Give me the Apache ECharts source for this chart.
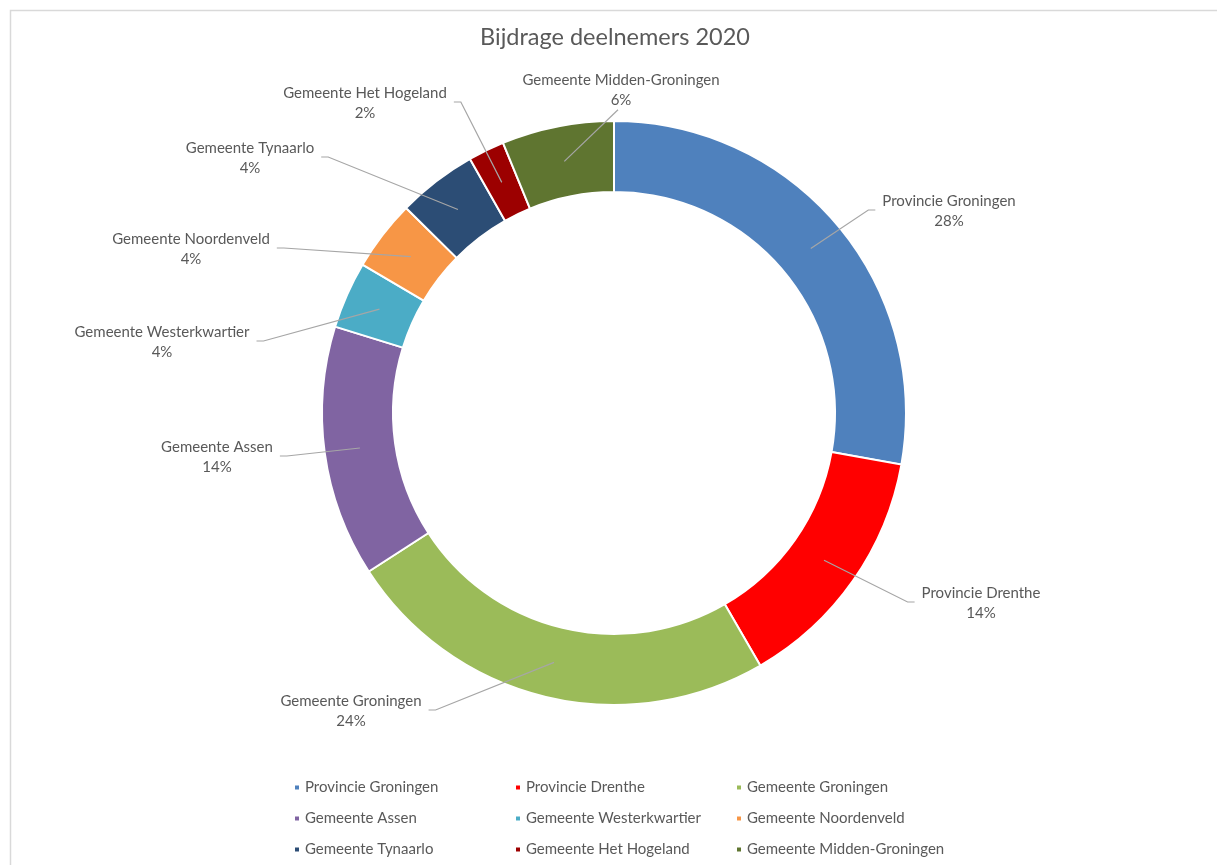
<!DOCTYPE html>
<html>
<head>
<meta charset="utf-8">
<script src="https://cdn.jsdelivr.net/npm/echarts@6/dist/echarts.min.js"></script>
<style>
  html, body { margin: 0; padding: 0; background: #ffffff; }
  #chart { width: 1217px; height: 865px; }
</style>
</head>
<body>
<div id="chart"></div>
<script>
// ---- data ----
const categories = [
  'Provincie Groningen', 'Provincie Drenthe', 'Gemeente Groningen',
  'Gemeente Assen', 'Gemeente Westerkwartier', 'Gemeente Noordenveld',
  'Gemeente Tynaarlo', 'Gemeente Het Hogeland', 'Gemeente Midden-Groningen'
];
const shares = [27.8, 13.8, 24.2, 13.9, 3.7, 3.9, 4.4, 2.0, 6.2];
const titleText = 'Bijdrage deelnemers 2020';

// ---- styles / layout ----
const palette = ['#4F81BD', '#FF0000', '#9BBB59', '#8064A2', '#4BACC6',
                 '#F79646', '#2C4D75', '#9C0000', '#5F7530'];
// centre of each data-label block (layout only)
const labelPos = [[949, 211], [981, 603], [351, 711], [217, 457], [162, 342],
                  [191, 249], [250, 158], [365, 103], [621, 90]];
const labelSide = ['right', 'right', 'left', 'left', 'left', 'left', 'left', 'left', 'top'];
const FONT = 'Lato';
const TEXT = '#595959';

const pieData = categories.map((c, i) => ({ name: c, value: shares[i] }));

const chart = echarts.init(document.getElementById('chart'), null, { renderer: 'canvas' });
chart.setOption({
  backgroundColor: '#ffffff',
  animation: false,
  color: palette,
  title: {
    text: titleText,
    left: 615,
    top: 25,
    padding: 0,
    textAlign: 'center',
    textStyle: { fontFamily: FONT, fontSize: 23.5, fontWeight: 'normal', color: TEXT }
  },
  graphic: [{
    type: 'rect',
    left: 8, top: 8,
    shape: { width: 1400, height: 1000 },
    style: { fill: 'none', stroke: '#D9D9D9', lineWidth: 1.5 },
    silent: true, z: -10
  }],
  legend: {
    left: 288,
    top: 773,
    width: 665,
    orient: 'horizontal',
    icon: 'rect',
    itemWidth: 6,
    itemHeight: 6,
    itemGap: 12,
    data: categories,
    textStyle: { fontFamily: FONT, fontSize: 15, color: TEXT, width: 197, lineHeight: 19 }
  },
  series: [
    {
      type: 'pie',
      center: [614, 413],
      radius: [221, 292],
      startAngle: 90,
      clockwise: true,
      silent: true,
      label: { show: false },
      labelLine: { show: false },
      itemStyle: { borderColor: '#ffffff', borderWidth: 2 },
      data: pieData
    },
    {
      type: 'pie',
      center: [614, 413],
      radius: [0, 256.5],
      startAngle: 90,
      clockwise: true,
      silent: true,
      z: 5,
      itemStyle: { color: 'rgba(0,0,0,0)', borderWidth: 0 },
      label: {
        show: true,
        position: 'outside',
        formatter: p => '{n|' + p.name + '}\n{v|' + Math.round(p.percent) + '%}',
        rich: {
          n: { fontFamily: FONT, fontSize: 15, color: TEXT, align: 'center', lineHeight: 20.5 },
          v: { fontFamily: FONT, fontSize: 15, color: TEXT, align: 'center', lineHeight: 20.5 }
        }
      },
      labelLine: { show: true, length: 20, length2: 10, lineStyle: { color: '#A6A6A6', width: 1.2 } },
      labelLayout: function (params) {
        if (params.seriesIndex !== 1) return {};
        const i = params.dataIndex;
        const x = labelPos[i][0], y = labelPos[i][1];
        const w = params.labelRect.width, h = params.labelRect.height;
        const start = params.labelLinePoints[0];
        let end, elbow;
        if (labelSide[i] === 'right') {
          end = [x - w / 2 - 7, y - 1];
          elbow = [end[0] - 7, y - 1];
        } else if (labelSide[i] === 'left') {
          end = [x + w / 2 + 7, y - 1];
          elbow = [end[0] + 7, y - 1];
        } else {
          end = [x - 3, y + h / 2 + 2];
          elbow = end;
        }
        return { x: x, y: y, align: 'center', verticalAlign: 'middle', labelLinePoints: [start, elbow, end] };
      },
      data: pieData
    }
  ]
});
</script>
</body>
</html>
